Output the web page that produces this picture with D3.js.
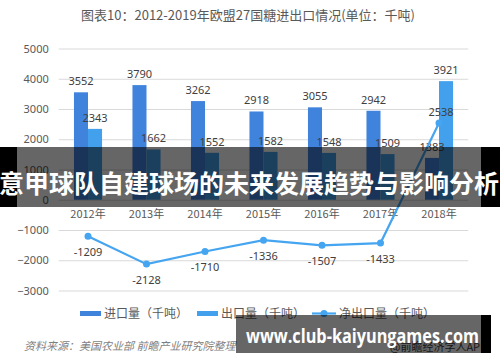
<!DOCTYPE html>
<html>
<head>
<meta charset="utf-8">
<script src="https://cdn.jsdelivr.net/npm/d3@7"></script>
<style>
  body { margin: 0; background: #fff; }
  svg { display: block; font-family: "Noto Sans CJK SC", "Noto Sans", sans-serif; }
</style>
</head>
<body>
<div id="chart"></div>
<script>
const years = ["2012年", "2013年", "2014年", "2015年", "2016年", "2017年", "2018年"];
const imports = [3552, 3790, 3262, 2918, 3055, 2942, 1383];
const exports = [2343, 1662, 1552, 1582, 1548, 1509, 3921];
const netExports = [-1209, -2128, -1710, -1336, -1507, -1433, 2538];
const yTicks = [5000, 4000, 3000, 2000, 1000, 0, -1000, -2000, -3000];

const W = 500, H = 362;
const svg = d3.select("#chart").append("svg").attr("width", W).attr("height", H);

const x0 = d3.scaleBand().domain(years).range([58.75, 468.25]).paddingInner(0.52).paddingOuter(0.26);
const x1 = d3.scaleBand().domain(["imp", "exp"]).range([0, x0.bandwidth()]);
const y = d3.scaleLinear().domain([-3000, 5000]).range([290.5, 48.5]);

// title
svg.append("text")
  .attr("x", 248).attr("y", 20)
  .attr("text-anchor", "middle")
  .attr("font-size", 13).attr("fill", "#595959")
  .text("图表10：2012-2019年欧盟27国糖进出口情况(单位：千吨)");

// y axis with grid
const yAxis = svg.append("g")
  .attr("transform", "translate(58.75,0)")
  .call(d3.axisLeft(y).tickValues(yTicks).tickSize(-409.5).tickPadding(10).tickFormat(d3.format("d")));
yAxis.select(".domain").remove();
yAxis.selectAll("line").attr("stroke", "#d9d9d9");
yAxis.selectAll("text").attr("font-size", 11).attr("fill", "#595959")
  .attr("font-family", "'Noto Sans', sans-serif");

// bars
const groups = svg.append("g").selectAll("g").data(years).enter().append("g")
  .attr("transform", d => "translate(" + x0(d) + ",0)");

groups.append("rect")
  .attr("x", x1("imp")).attr("width", x1.bandwidth())
  .attr("y", (d, i) => y(imports[i])).attr("height", (d, i) => y(0) - y(imports[i]))
  .attr("fill", "#3f83dc");
groups.append("rect")
  .attr("x", x1("exp")).attr("width", x1.bandwidth())
  .attr("y", (d, i) => y(exports[i])).attr("height", (d, i) => y(0) - y(exports[i]))
  .attr("fill", "#42a0ec");

groups.append("text")
  .attr("x", x1("imp") + x1.bandwidth() / 2)
  .attr("y", (d, i) => y(imports[i]) - 7)
  .attr("text-anchor", "middle").attr("font-size", 11).attr("fill", "#404040")
  .attr("font-family", "'Noto Sans', sans-serif")
  .text((d, i) => imports[i]);
groups.append("text")
  .attr("x", x1("exp") + x1.bandwidth() / 2)
  .attr("y", (d, i) => y(exports[i]) - 7)
  .attr("text-anchor", "middle").attr("font-size", 11).attr("fill", "#404040")
  .attr("font-family", "'Noto Sans', sans-serif")
  .text((d, i) => exports[i]);

// category labels
svg.append("g").selectAll("text").data(years).enter().append("text")
  .attr("x", d => x0(d) + x0.bandwidth() / 2)
  .attr("y", 218)
  .attr("text-anchor", "middle").attr("font-size", 11).attr("fill", "#595959")
  .text(d => d);

// net export line
const cx = (d, i) => x0(years[i]) + x0.bandwidth() / 2;
const line = d3.line().x((d, i) => cx(d, i)).y(d => y(d));
svg.append("path").datum(netExports)
  .attr("d", line).attr("fill", "none").attr("stroke", "#45a5f0").attr("stroke-width", 2.2);
svg.append("g").selectAll("circle").data(netExports).enter().append("circle")
  .attr("cx", cx).attr("cy", d => y(d)).attr("r", 3.5).attr("fill", "#45a5f0");
svg.append("g").selectAll("text").data(netExports).enter().append("text")
  .attr("x", (d, i) => cx(d, i) + (d > 0 ? 2 : 0))
  .attr("y", d => d < 0 ? y(d) + 20 : y(d) - 7)
  .attr("text-anchor", "middle").attr("font-size", 11).attr("fill", "#404040")
  .attr("font-family", "'Noto Sans', sans-serif")
  .text(d => d);

// legend
const legend = svg.append("g").attr("font-size", 12).attr("fill", "#595959");
legend.append("rect").attr("x", 80).attr("y", 311).attr("width", 21).attr("height", 5).attr("fill", "#3f83dc");
legend.append("text").attr("x", 104).attr("y", 318).attr("fill", "#595959").text("进口量（千吨）");
legend.append("rect").attr("x", 197).attr("y", 311).attr("width", 21).attr("height", 5).attr("fill", "#42a0ec");
legend.append("text").attr("x", 221).attr("y", 318).attr("fill", "#595959").text("出口量（千吨）");
legend.append("line").attr("x1", 312).attr("x2", 336).attr("y1", 313.5).attr("y2", 313.5)
  .attr("stroke", "#45a5f0").attr("stroke-width", 2.2);
legend.append("circle").attr("cx", 324).attr("cy", 313.5).attr("r", 3.5).attr("fill", "#45a5f0");
legend.append("text").attr("x", 339).attr("y", 318).attr("fill", "#595959").text("净出口量（千吨）");

// source
svg.append("text").attr("x", 24).attr("y", 350)
  .attr("font-size", 11).attr("font-style", "italic").attr("fill", "#7f7f7f")
  .text("资料来源：美国农业部 前瞻产业研究院整理");
svg.append("text").attr("x", 390).attr("y", 351)
  .attr("font-size", 11).attr("fill", "#404040")
  .text("@前瞻经济学人APP");

// overlay banner
svg.append("rect").attr("x", 0).attr("y", 147).attr("width", 17).attr("height", 60).attr("fill", "#000");
svg.append("rect").attr("x", 481).attr("y", 147).attr("width", 19).attr("height", 60).attr("fill", "#000");
svg.append("rect").attr("x", 17).attr("y", 147).attr("width", 464).attr("height", 60).attr("fill", "rgba(0,0,0,0.6)");
svg.append("text").attr("x", 249).attr("y", 193)
  .attr("text-anchor", "middle").attr("font-size", 25).attr("font-weight", "bold").attr("fill", "#fff")
  .text("意甲球队自建球场的未来发展趋势与影响分析");

// bottom watermark banner
svg.append("rect").attr("x", 481).attr("y", 315).attr("width", 10).attr("height", 38).attr("fill", "#000");
svg.append("rect").attr("x", 236).attr("y", 315).attr("width", 245).attr("height", 38).attr("fill", "rgba(0,0,0,0.6)");
svg.append("text").attr("x", 246).attr("y", 343)
  .attr("font-size", 19).attr("font-weight", "bold").attr("fill", "#fff")
  .attr("font-family", "'Open Sans', 'Noto Sans', sans-serif")
  .attr("textLength", 233).attr("lengthAdjust", "spacingAndGlyphs")
  .text("www.club-kaiyungames.com");
</script>
</body>
</html>
